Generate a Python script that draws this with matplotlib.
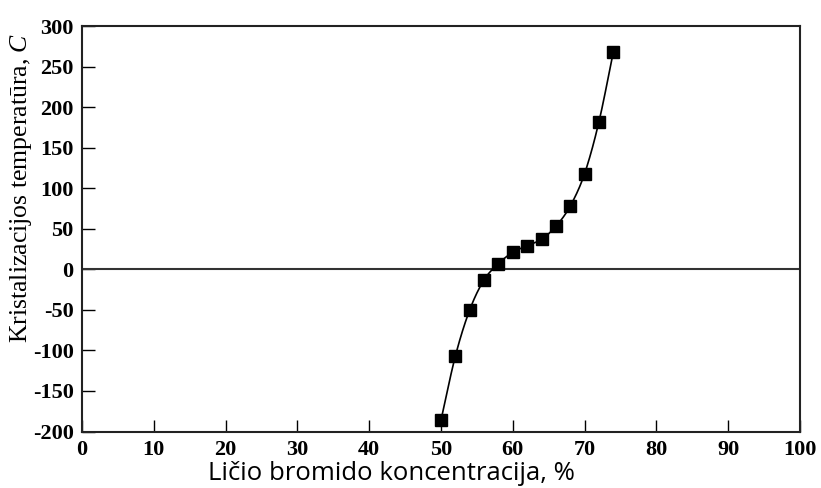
import numpy as np
import matplotlib
matplotlib.use("Agg")
import matplotlib.pyplot as plt

plt.rcParams["axes.unicode_minus"] = False
plt.rcParams["mathtext.fontset"] = "custom"
plt.rcParams["mathtext.it"] = "Liberation Serif:italic"
plt.rcParams["mathtext.rm"] = "Liberation Serif"

# Data
concentration = [50, 52, 54, 56, 58, 60, 62, 64, 66, 68, 70, 72, 74]
temperature = [-186, -107, -50, -13, 7, 21, 29, 37, 53, 78, 118, 182, 268]

x_ticks = [0, 10, 20, 30, 40, 50, 60, 70, 80, 90, 100]
y_ticks = [-200, -150, -100, -50, 0, 50, 100, 150, 200, 250, 300]

W, H = 821, 488
fig = plt.figure(figsize=(W / 100, H / 100), dpi=100)
ax = fig.add_axes([82 / W, 1 - 431.5 / H, (800 - 82) / W, (431.5 - 26) / H])


def catmull_rom(xs, ys, n=20):
    xs = np.asarray(xs, float)
    ys = np.asarray(ys, float)
    px = np.concatenate([[2 * xs[0] - xs[1]], xs, [2 * xs[-1] - xs[-2]]])
    py = np.concatenate([[2 * ys[0] - ys[1]], ys, [2 * ys[-1] - ys[-2]]])
    outx, outy = [], []
    t = np.linspace(0, 1, n, endpoint=False)
    for i in range(1, len(px) - 2):
        for p, out in ((px, outx), (py, outy)):
            p0, p1, p2, p3 = p[i - 1], p[i], p[i + 1], p[i + 2]
            out.extend(0.5 * ((2 * p1) + (-p0 + p2) * t
                              + (2 * p0 - 5 * p1 + 4 * p2 - p3) * t ** 2
                              + (-p0 + 3 * p1 - 3 * p2 + p3) * t ** 3))
    outx.append(xs[-1])
    outy.append(ys[-1])
    return outx, outy


sx, sy = catmull_rom(concentration, temperature)
ax.plot(sx, sy, color="black", lw=1.2, zorder=3)
ax.plot(concentration, temperature, ls="none", marker="s", ms=8.5,
        color="black", zorder=4)
ax.axhline(0, color="#333333", lw=1.5, zorder=2)

ax.set_xlim(0, 100)
ax.set_ylim(-200, 300)
ax.set_xticks(x_ticks)
ax.set_yticks(y_ticks)
ax.tick_params(direction="in", length=9, width=1, top=False, right=False,
               labelsize=16)
ax.tick_params(axis="x", pad=6)
ax.tick_params(axis="y", pad=6)
for lab in ax.get_xticklabels() + ax.get_yticklabels():
    lab.set_fontfamily("Liberation Serif")
    lab.set_fontweight("bold")
for sp in ax.spines.values():
    sp.set_linewidth(1.5)
    sp.set_color("#222222")

fig.text(21 / W, 1 - 188 / H, "Kristalizacijos temperatūra, $\\it{C}$",
         rotation=90, ha="center", va="center", fontsize=18.5,
         family="Liberation Serif")
fig.text(391 / W, 8 / H, "Ličio bromido koncentracija, %",
         ha="center", va="baseline", fontsize=18.5, family="Open Sans")

fig.savefig("out.png", dpi=100)
